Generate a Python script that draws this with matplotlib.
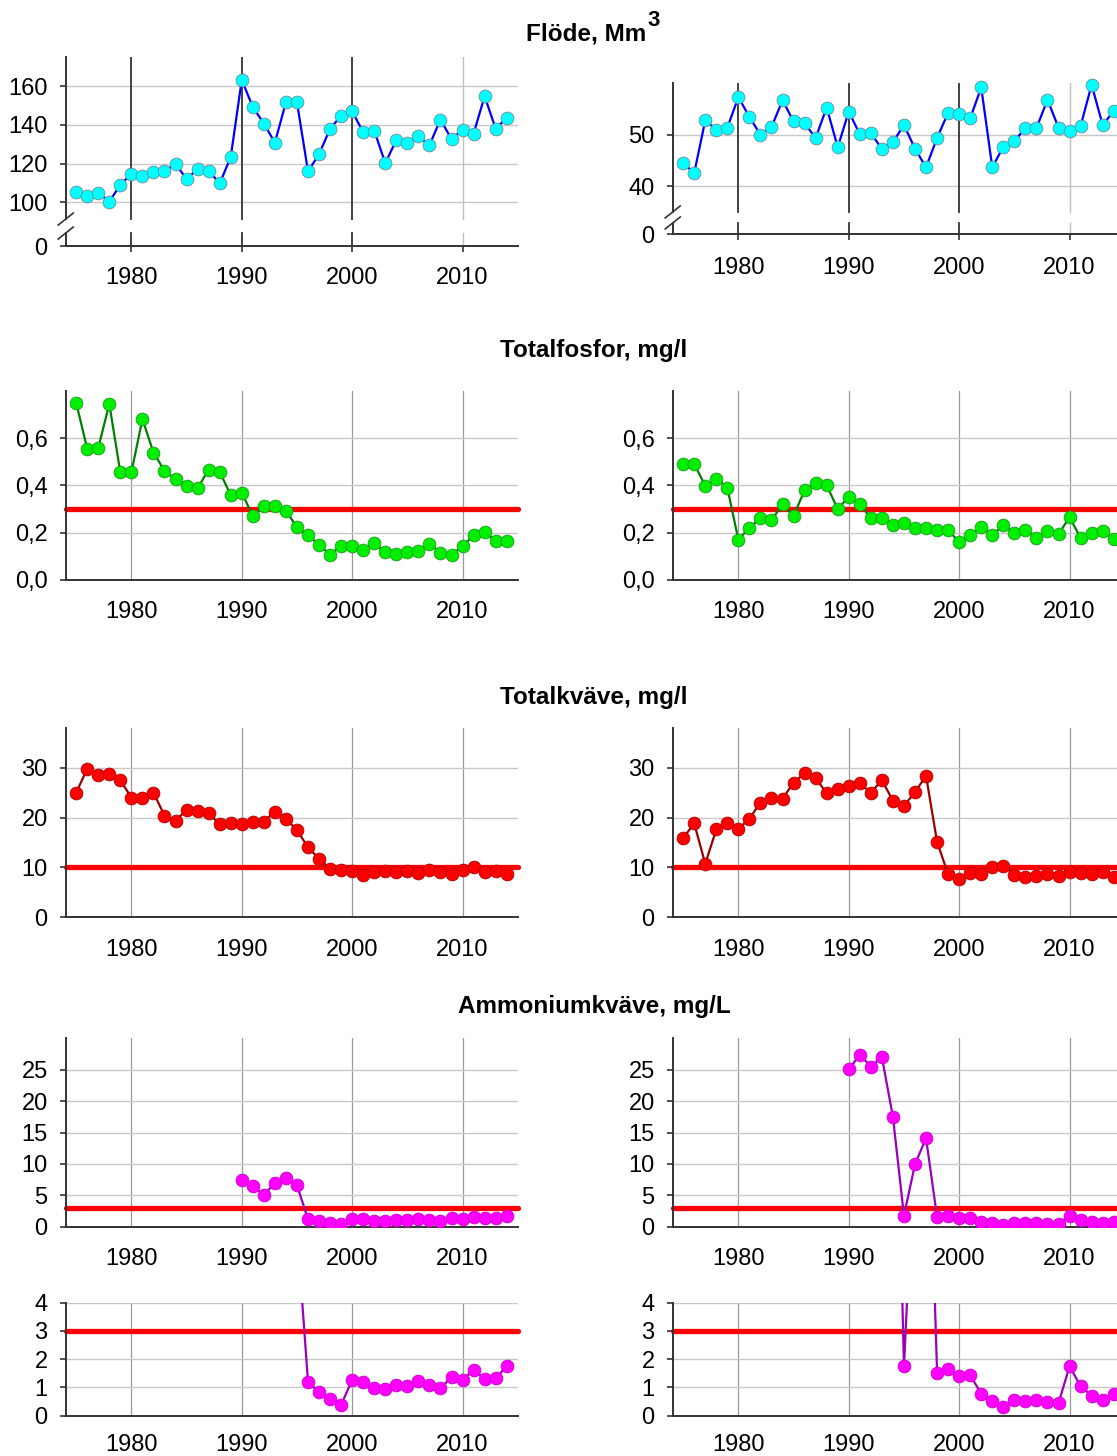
import matplotlib
matplotlib.use("Agg")
import matplotlib.pyplot as plt

plt.rcParams['font.family'] = ['Liberation Sans', 'DejaVu Sans']

# Years
YEARS = list(range(1975, 2015))
NH4_YEARS = list(range(1990, 2015))

# Flöde, Mm3
flow_left = [105.2, 103.3, 105.0, 100.3, 109.0, 114.7, 113.6, 115.5, 116.2, 119.8,
             112.0, 117.2, 116.4, 109.7, 123.4, 163.3, 149.3, 140.7, 130.9, 151.7,
             151.7, 116.0, 124.8, 138.1, 144.7, 147.1, 136.2, 137.1, 120.2, 132.2,
             130.5, 134.1, 129.5, 142.8, 132.6, 137.6, 135.5, 154.8, 138.1, 143.6]
flow_right = [44.5, 42.6, 52.8, 51.0, 51.4, 57.3, 53.5, 50.0, 51.5, 56.7,
              52.6, 52.2, 49.4, 55.3, 47.6, 54.5, 50.1, 50.3, 47.3, 48.6,
              51.9, 47.3, 43.7, 49.4, 54.3, 54.1, 53.2, 59.2, 43.7, 47.7,
              48.8, 51.3, 51.3, 56.8, 51.4, 50.8, 51.7, 59.7, 51.9, 54.6]

# Totalfosfor, mg/l
tp_left = [0.750, 0.555, 0.559, 0.745, 0.455, 0.455, 0.681, 0.539, 0.462, 0.425,
           0.397, 0.389, 0.466, 0.458, 0.358, 0.369, 0.270, 0.311, 0.311, 0.293,
           0.222, 0.189, 0.148, 0.106, 0.144, 0.144, 0.125, 0.156, 0.117, 0.111,
           0.117, 0.122, 0.152, 0.114, 0.106, 0.141, 0.189, 0.201, 0.166, 0.163]
tp_right = [0.490, 0.491, 0.398, 0.429, 0.390, 0.169, 0.221, 0.260, 0.251, 0.321,
            0.270, 0.380, 0.410, 0.400, 0.300, 0.351, 0.321, 0.260, 0.262, 0.230,
            0.241, 0.220, 0.220, 0.210, 0.211, 0.159, 0.190, 0.222, 0.190, 0.230,
            0.199, 0.211, 0.177, 0.208, 0.193, 0.265, 0.177, 0.199, 0.207, 0.172]

# Totalkväve, mg/l
tn_left = [25.0, 29.8, 28.5, 28.7, 27.5, 24.0, 24.0, 25.0, 20.4, 19.4,
           21.5, 21.4, 20.9, 18.6, 19.0, 18.6, 19.2, 19.2, 21.2, 19.7,
           17.5, 14.0, 11.7, 9.7, 9.4, 9.2, 8.4, 9.1, 9.2, 9.0,
           9.2, 8.9, 9.4, 9.1, 8.7, 9.5, 10.0, 9.0, 9.2, 8.6]
tn_right = [15.9, 18.8, 10.7, 17.6, 18.8, 17.7, 19.8, 23.0, 24.0, 23.8,
            27.0, 28.9, 27.9, 24.9, 25.8, 26.3, 26.9, 25.0, 27.5, 23.4,
            22.4, 25.1, 28.4, 15.1, 8.6, 7.6, 8.9, 8.6, 10.1, 10.3,
            8.5, 8.0, 8.3, 8.6, 8.2, 9.1, 8.8, 8.7, 9.0, 8.0]

# Ammoniumkväve, mg/L
nh4_left = [7.4, 6.5, 5.0, 7.0, 7.7, 6.6, 1.20, 0.83, 0.59, 0.39,
            1.26, 1.18, 0.97, 0.93, 1.10, 1.06, 1.23, 1.07, 0.97, 1.37,
            1.26, 1.62, 1.31, 1.33, 1.75]
nh4_right = [25.05, 27.4, 25.5, 27.0, 17.5, 1.75, 9.96, 14.1, 1.52, 1.64,
             1.42, 1.43, 0.78, 0.51, 0.32, 0.54, 0.53, 0.57, 0.47, 0.44,
             1.75, 1.05, 0.71, 0.54, 0.77]

# Riktvärden (red lines)
TP_LIMIT = 0.3
TN_LIMIT = 10
NH4_LIMIT = 3

W, H = 1117, 1456
XLIM = (1974.05, 2015.05)
XTICKS = [1980, 1990, 2000, 2010]
AX_W = 452.6
LEFT_X0 = 65.7
RIGHT_X0 = 672.7
TICK_FS = 17
TITLE_FS = 17.5

fig = plt.figure(figsize=(W / 100, H / 100), dpi=100)


def make_ax(x0, top, bottom):
    ax = fig.add_axes([x0 / W, 1 - bottom / H, AX_W / W, (bottom - top) / H])
    ax.set_xlim(XLIM)
    ax.set_xticks(XTICKS)
    for s in ["top", "right"]:
        ax.spines[s].set_visible(False)
    for s in ["left", "bottom"]:
        ax.spines[s].set_color("#333333")
        ax.spines[s].set_linewidth(1.4)
    ax.tick_params(axis="y", labelsize=TICK_FS, length=4, width=1.2, color="#333333", pad=9)
    ax.tick_params(axis="x", labelsize=TICK_FS, length=0, pad=15.5)
    return ax


def style_grid(ax):
    ax.set_axisbelow(True)
    ax.xaxis.grid(True, color="#999999", linewidth=0.9)
    ax.yaxis.grid(True, color="#c8c8c8", linewidth=1.0)


def series(ax, x, y, line, face, edge, clip=True):
    ax.plot(x, y, "-", color=line, linewidth=1.6, marker="o", markersize=9.2,
            markerfacecolor=face, markeredgecolor=edge, markeredgewidth=0.6,
            zorder=3, clip_on=clip)


def limit_line(ax, val):
    ax.plot(XLIM, [val, val], color="#ff0000", linewidth=3.8,
            solid_capstyle="round", clip_on=False, zorder=2)


def flow_panel(ax, y, ylim, ticks, labels, gap, height_px, xpad):
    ax.set_ylim(ylim)
    ax.set_yticks(ticks)
    ax.set_yticklabels(labels)
    ax.spines["left"].set_visible(False)
    ax.tick_params(axis="x", length=4, width=1.2, color="#333333", pad=xpad)
    lo, hi = gap
    # broken left spine
    ax.plot([0, 0], [0, lo], color="#333333", lw=1.4, transform=ax.transAxes, clip_on=False)
    ax.plot([0, 0], [hi, 1], color="#333333", lw=1.4, transform=ax.transAxes, clip_on=False)
    # break marks
    dx = 7.5 / AX_W
    dy = 6.0 / height_px
    for c in (lo, hi):
        ax.plot([-dx, dx], [c - dy, c + dy], color="#333333", lw=1.2,
                transform=ax.transAxes, clip_on=False)
    # horizontal grid for the real values
    for t in ticks[1:]:
        ax.axhline(t, color="#c8c8c8", lw=1.0, zorder=1)
    # vertical lines, broken at the gap
    for yr in XTICKS:
        col, lw = ("#333333", 1.3) if yr < 2010 else ("#c0c0c0", 1.0)
        ax.axvline(yr, ymin=0, ymax=lo, color=col, lw=lw, zorder=1)
        ax.axvline(yr, ymin=hi, ymax=1, color=col, lw=lw, zorder=1)
    series(ax, YEARS, y, "#0000ff", "#00ffff", "#6a8a9a", clip=False)


def title(y_px, text):
    fig.text(594 / W, 1 - y_px / H, text, ha="center", va="center",
             fontsize=TITLE_FS, fontweight="bold")


# ---- Flöde ----
fig.text(646 / W, 1 - 34 / H, "Flöde, Mm", ha="right", va="center",
         fontsize=TITLE_FS, fontweight="bold")
fig.text(647 / W, 1 - 21 / H, "3", ha="left", va="center",
         fontsize=16, fontweight="bold")

ax = make_ax(LEFT_X0, 57.3, 246.3)
flow_panel(ax, flow_left, (77.2, 175), [77.2, 100, 120, 140, 160],
           ["0", "100", "120", "140", "160"], (0.070, 0.144), 189, 11)

ax = make_ax(RIGHT_X0, 83.3, 234.3)
flow_panel(ax, flow_right, (30.7, 60), [30.7, 40, 50],
           ["0", "40", "50"], (0.075, 0.148), 151, 12)

# ---- Totalfosfor ----
title(351, "Totalfosfor, mg/l")
for x0, data in ((LEFT_X0, tp_left), (RIGHT_X0, tp_right)):
    ax = make_ax(x0, 391, 579.7)
    style_grid(ax)
    ax.set_ylim(0, 0.8)
    ax.set_yticks([0, 0.2, 0.4, 0.6])
    ax.set_yticklabels(["0,0", "0,2", "0,4", "0,6"])
    limit_line(ax, TP_LIMIT)
    series(ax, YEARS, data, "#008000", "#00ee00", "#1a9a1a")

# ---- Totalkväve ----
title(697, "Totalkväve, mg/l")
for x0, data in ((LEFT_X0, tn_left), (RIGHT_X0, tn_right)):
    ax = make_ax(x0, 728, 917)
    style_grid(ax)
    ax.set_ylim(0, 38)
    ax.set_yticks([0, 10, 20, 30])
    limit_line(ax, TN_LIMIT)
    series(ax, YEARS, data, "#990000", "#ff0000", "#b00000")

# ---- Ammoniumkväve ----
title(1007, "Ammoniumkväve, mg/L")
for x0, data in ((LEFT_X0, nh4_left), (RIGHT_X0, nh4_right)):
    ax = make_ax(x0, 1038.3, 1226.7)
    style_grid(ax)
    ax.set_ylim(0, 30)
    ax.set_yticks([0, 5, 10, 15, 20, 25])
    limit_line(ax, NH4_LIMIT)
    series(ax, NH4_YEARS, data, "#9900bb", "#ff00ff", "#cc00cc")

    ax = make_ax(x0, 1302.7, 1415.7)
    style_grid(ax)
    ax.set_ylim(0, 4)
    ax.set_yticks([0, 1, 2, 3, 4])
    ax.tick_params(axis="x", pad=13)
    limit_line(ax, NH4_LIMIT)
    series(ax, NH4_YEARS, data, "#9900bb", "#ff00ff", "#cc00cc")

fig.savefig("out.png", dpi=100)
